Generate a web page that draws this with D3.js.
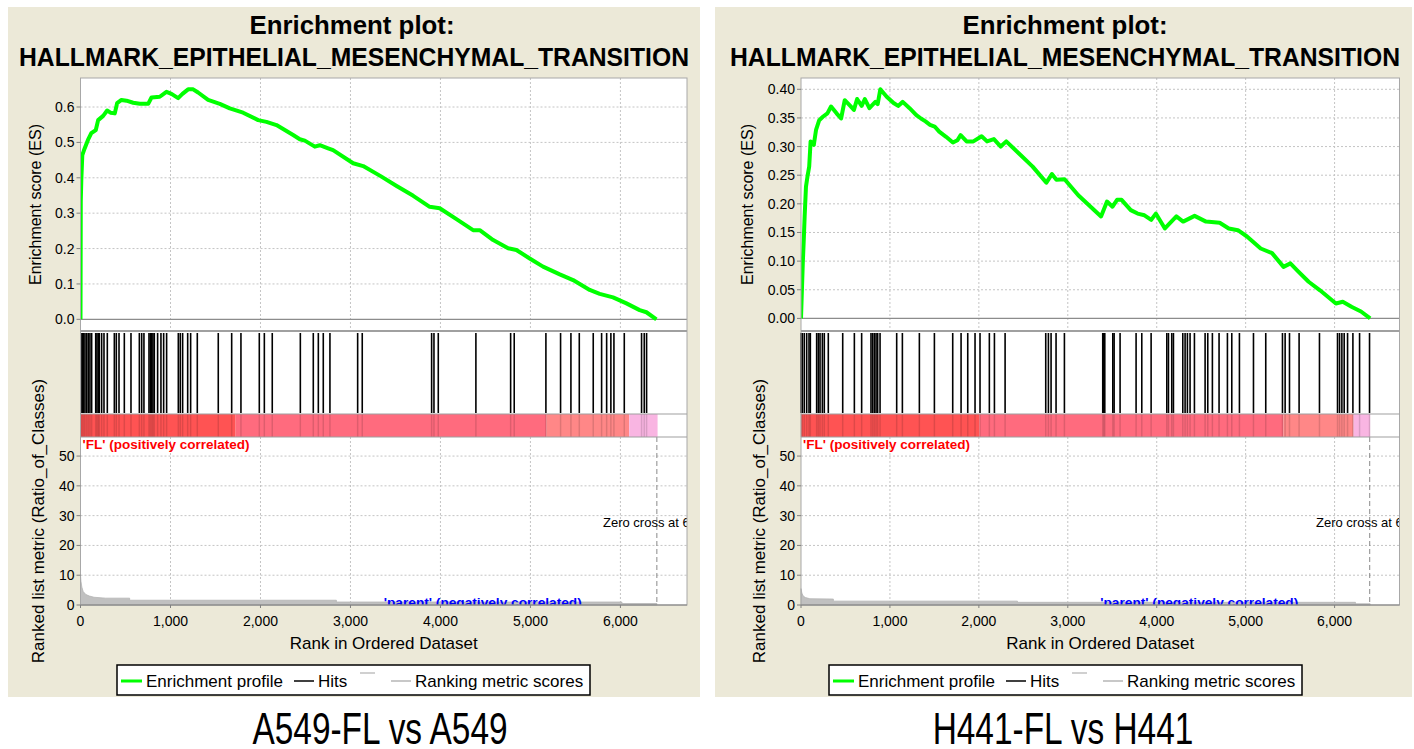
<!DOCTYPE html>
<html>
<head>
<meta charset="utf-8">
<script src="https://cdn.jsdelivr.net/npm/d3@7"></script>
<style>
  body { margin: 0; background: #fff; }
  svg { display: block; }
</style>
</head>
<body>
<div id="chart"></div>
<script>
// ---- data ----
const xTicks = [0, 1000, 2000, 3000, 4000, 5000, 6000];
const metricTicks = [0, 10, 20, 30, 40, 50];
const leftEsTicks = [0, 0.1, 0.2, 0.3, 0.4, 0.5, 0.6];
const rightEsTicks = [0, 0.05, 0.1, 0.15, 0.2, 0.25, 0.3, 0.35, 0.4];

// running enrichment score, [rank, ES]
const leftES = [[0,0],[3,0.333],[9,0.394],[20,0.464],[46,0.483],[83,0.507],[120,0.526],[170,0.535],[196,0.563],
  [252,0.575],[296,0.590],[333,0.584],[381,0.582],[407,0.611],[455,0.620],[511,0.618],[585,0.612],[659,0.609],
  [752,0.609],[789,0.627],[881,0.629],[955,0.643],[1011,0.637],[1085,0.625],[1133,0.637],[1196,0.650],[1252,0.650],
  [1307,0.641],[1418,0.620],[1548,0.609],[1659,0.596],[1807,0.584],[1974,0.563],[2067,0.558],[2178,0.549],
  [2363,0.521],[2437,0.509],[2493,0.505],[2604,0.488],[2659,0.492],[2752,0.483],[2807,0.478],[3030,0.441],
  [3141,0.433],[3340,0.404],[3513,0.377],[3698,0.349],[3881,0.318],[3992,0.314],[4178,0.283],[4363,0.252],
  [4437,0.252],[4586,0.224],[4752,0.201],[4844,0.196],[4992,0.172],[5140,0.149],[5326,0.127],[5474,0.111],
  [5659,0.083],[5770,0.072],[5918,0.062],[6067,0.045],[6214,0.026],[6289,0.020],[6400,0.0]];

const rightES = [[0,0],[10,0.049],[20,0.096],[31,0.137],[41,0.178],[56,0.230],[72,0.247],[92,0.265],[108,0.309],
  [144,0.303],[169,0.329],[205,0.346],[246,0.352],[297,0.358],[338,0.370],[400,0.358],[451,0.349],[492,0.381],
  [554,0.371],[595,0.364],[631,0.383],[682,0.371],[718,0.383],[769,0.367],[836,0.378],[862,0.374],[892,0.400],
  [964,0.387],[1041,0.376],[1092,0.371],[1144,0.378],[1221,0.367],[1297,0.355],[1349,0.349],[1400,0.344],
  [1451,0.338],[1503,0.335],[1554,0.326],[1631,0.317],[1708,0.307],[1759,0.311],[1795,0.320],[1862,0.309],
  [1938,0.309],[2031,0.318],[2092,0.309],[2169,0.313],[2246,0.300],[2308,0.309],[2451,0.288],[2605,0.265],
  [2759,0.237],[2821,0.252],[2872,0.242],[2964,0.243],[3118,0.215],[3374,0.178],[3441,0.204],[3503,0.195],
  [3554,0.207],[3605,0.207],[3708,0.189],[3785,0.183],[3862,0.180],[3938,0.172],[3990,0.183],[4092,0.157],
  [4221,0.178],[4297,0.169],[4426,0.179],[4554,0.169],[4708,0.167],[4810,0.157],[4913,0.154],[5015,0.143],
  [5169,0.122],[5297,0.114],[5426,0.090],[5503,0.096],[5579,0.084],[5708,0.064],[5836,0.049],[6015,0.026],
  [6092,0.029],[6195,0.020],[6297,0.012],[6400,0.0]];

// gene-set hit ranks
const leftHits = [5,20,35,50,69,87,105,124,169,183,198,209,235,261,298,376,398,428,487,561,654,680,705,761,776,
  791,805,820,857,894,924,957,1087,1109,1135,1191,1224,1298,1531,1680,1783,1987,2043,2131,2443,2587,2643,2698,
  2772,3080,3131,3902,3928,3976,4394,4780,4820,5172,5335,5450,5543,5698,5791,5847,5894,5928,6043,6235,6265,6291];

const rightHits = [1,15,37,64,90,105,176,195,214,240,262,307,469,600,682,787,806,825,844,862,889,1076,1140,1331,
  1500,1706,1800,1875,1957,2013,2118,2175,2295,2752,2782,2812,2868,2962,3393,3405,3416,3506,3521,3588,3768,3832,
  3937,4113,4132,4169,4188,4293,4319,4345,4375,4424,4544,4574,4626,4701,4795,4844,4930,5088,5226,5414,5444,5493,
  5601,5830,6033,6056,6082,6108,6146,6206,6281,6393];

// heat-map bar segments [fromRank, toRank, colour]
const leftBands = [[0,1724,"#ff5353"],[1724,5180,"#ff6b7e"],[5180,6098,"#ff8787"],[6098,6413,"#f9b5e2"]];
const rightBands = [[0,2008,"#ff5353"],[2008,5425,"#ff6b7e"],[5425,6213,"#ff8787"],[6213,6400,"#f9b5e2"]];

// ranked list metric, [rank, value]
const leftMetric = [[0,10],[5,8],[15,6],[30,4.5],[60,3.5],[100,3],[150,2.6],[280,2.3],[546,2.3],[546,1.6],
  [2844,1.6],[2844,1.0],[6017,1.0],[6017,0.5],[6405,0.5],[6405,0]];
const rightMetric = [[0,5.5],[10,4],[25,3],[50,2.5],[100,2.1],[364,2],[364,1.3],[2434,1.3],[2434,0.9],
  [6235,0.9],[6235,0.4],[6400,0.4],[6400,0]];

const legendItems = ["Enrichment profile", "Hits", "Ranking metric scores"];

const FONT = "Arial, 'Liberation Sans', Helvetica, sans-serif";
const svg = d3.select("#chart").append("svg").attr("width", 1414).attr("height", 749);

function txt(g, x, y, s, o = {}) {
  const t = g.append("text").attr("x", x).attr("y", y).text(s)
    .attr("font-family", FONT).attr("font-size", o.size || 14)
    .attr("fill", o.fill || "#000")
    .attr("text-anchor", o.anchor || "start");
  if (o.bold) t.attr("font-weight", "bold");
  if (o.len) t.attr("textLength", o.len).attr("lengthAdjust", "spacingAndGlyphs");
  return t;
}

function drawPanel(p) {
  const g = svg.append("g");
  const top = 78, esBot = 331, hitsBot = 414, barBot = 437, bot = 605;

  g.append("rect").attr("x", p.x0).attr("y", 7).attr("width", p.x1 - p.x0).attr("height", 690).attr("fill", "#ece9d8");

  // titles
  txt(g, p.t1x, 34, "Enrichment plot:", { size: 25, bold: true, anchor: "middle", len: 205 });
  txt(g, p.t2x, 66, "HALLMARK_EPITHELIAL_MESENCHYMAL_TRANSITION", { size: 26, bold: true, anchor: "middle", len: 670 });

  const x = d3.scaleLinear().domain([0, p.xMax]).range([p.plotL, p.plotR]);
  const yES = d3.scaleLinear().domain(p.esDomain).range([esBot, top]);
  const yM = d3.scaleLinear().domain([0, 56.4]).range([bot, barBot]);

  g.append("rect").attr("x", p.plotL).attr("y", top).attr("width", p.plotR - p.plotL)
    .attr("height", bot - top).attr("fill", "#fff");

  const gridCol = "#c4c4c4";
  // grid
  xTicks.slice(1).forEach(t => {
    g.append("line").attr("x1", x(t)).attr("x2", x(t)).attr("y1", top).attr("y2", esBot)
      .attr("stroke", gridCol).attr("stroke-dasharray", "2,2");
    g.append("line").attr("x1", x(t)).attr("x2", x(t)).attr("y1", barBot).attr("y2", bot)
      .attr("stroke", gridCol).attr("stroke-dasharray", "2,2");
  });
  p.esTicks.slice(1).forEach(t => {
    g.append("line").attr("x1", p.plotL).attr("x2", p.plotR).attr("y1", yES(t)).attr("y2", yES(t))
      .attr("stroke", gridCol).attr("stroke-dasharray", "2,2");
  });
  metricTicks.slice(1).forEach(t => {
    g.append("line").attr("x1", p.plotL).attr("x2", p.plotR).attr("y1", yM(t)).attr("y2", yM(t))
      .attr("stroke", gridCol).attr("stroke-dasharray", "2,2");
  });
  g.append("line").attr("x1", p.plotL).attr("x2", p.plotR).attr("y1", yES(0)).attr("y2", yES(0))
    .attr("stroke", "#8c8c8c").attr("stroke-width", 1.2);

  // clip paths
  const clipES = "clipES" + p.id, clipM = "clipM" + p.id;
  const defs = g.append("defs");
  defs.append("clipPath").attr("id", clipES).append("rect")
    .attr("x", p.plotL).attr("y", top).attr("width", p.plotR - p.plotL).attr("height", esBot - top);
  defs.append("clipPath").attr("id", clipM).append("rect")
    .attr("x", p.plotL).attr("y", barBot).attr("width", p.plotR - p.plotL).attr("height", bot - barBot);

  // metric area
  const area = d3.area().x(d => x(d[0])).y0(yM(0)).y1(d => yM(d[1]));
  g.append("path").datum(p.metric).attr("d", area).attr("fill", "#c0c0c0").attr("stroke", "#b4b4b4").attr("stroke-width", 0.8);

  // zero cross
  g.append("line").attr("x1", x(p.zero)).attr("x2", x(p.zero)).attr("y1", barBot).attr("y2", bot)
    .attr("stroke", "#8a8a8a").attr("stroke-dasharray", "5,3");
  const mg = g.append("g").attr("clip-path", `url(#${clipM})`);
  txt(mg, p.zeroTextX, 527, "Zero cross at " + p.zero, { size: 13 });
  txt(mg, p.plotL + 2, 449, "'FL' (positively correlated)", { size: 13, bold: true, fill: "#ff0000", len: 167 });
  txt(mg, x(p.xMax / 2), 607, "'parent' (negatively correlated)", { size: 13, bold: true, fill: "#0000ff", len: 198 });

  // ES curve
  const line = d3.line().x(d => x(d[0])).y(d => yES(d[1]));
  g.append("g").attr("clip-path", `url(#${clipES})`).append("path").datum(p.es).attr("d", line)
    .attr("fill", "none").attr("stroke", "#00ff00").attr("stroke-width", 4).attr("stroke-linejoin", "round");

  // heat bar
  p.bands.forEach(b => {
    g.append("rect").attr("x", x(b[0])).attr("y", hitsBot).attr("width", x(b[1]) - x(b[0]))
      .attr("height", barBot - hitsBot).attr("fill", b[2]);
  });
  p.hits.forEach(h => {
    g.append("line").attr("x1", x(h)).attr("x2", x(h)).attr("y1", hitsBot).attr("y2", barBot)
      .attr("stroke", "#000").attr("stroke-opacity", 0.13).attr("stroke-width", 1.5);
    g.append("line").attr("x1", x(h)).attr("x2", x(h)).attr("y1", esBot + 2).attr("y2", hitsBot - 1)
      .attr("stroke", "#000").attr("stroke-width", 1.6);
  });

  // frames
  g.append("rect").attr("x", p.plotL).attr("y", top).attr("width", p.plotR - p.plotL).attr("height", bot - top)
    .attr("fill", "none").attr("stroke", "#a8a8a8");
  [esBot, hitsBot, barBot].forEach(yy => {
    g.append("line").attr("x1", p.plotL).attr("x2", p.plotR).attr("y1", yy).attr("y2", yy)
      .attr("stroke", "#a0a0a0").attr("stroke-width", yy === esBot ? 2 : 1.2);
  });
  g.append("line").attr("x1", p.plotL).attr("x2", p.plotR).attr("y1", bot).attr("y2", bot)
    .attr("stroke", "#808080").attr("stroke-width", 1.2);

  // axes
  p.esTicks.forEach(t => {
    g.append("line").attr("x1", p.plotL - 4).attr("x2", p.plotL).attr("y1", yES(t)).attr("y2", yES(t)).attr("stroke", "#808080");
    txt(g, p.plotL - 6, yES(t) + 5, p.esFmt(t), { size: 14, anchor: "end" });
  });
  metricTicks.forEach(t => {
    g.append("line").attr("x1", p.plotL - 4).attr("x2", p.plotL).attr("y1", yM(t)).attr("y2", yM(t)).attr("stroke", "#808080");
    txt(g, p.plotL - 6, yM(t) + 5, String(t), { size: 14, anchor: "end" });
  });
  xTicks.forEach(t => {
    g.append("line").attr("x1", x(t)).attr("x2", x(t)).attr("y1", bot).attr("y2", bot + 3).attr("stroke", "#808080");
    txt(g, x(t), 626, d3.format(",")(t), { size: 14, anchor: "middle" });
  });
  txt(g, (p.plotL + p.plotR) / 2, 649, "Rank in Ordered Dataset", { size: 17, anchor: "middle" });
  txt(g, 0, 0, "Enrichment score (ES)", { size: 16, anchor: "middle" })
    .attr("transform", `translate(${p.esLabelX},${(top + esBot) / 2}) rotate(-90)`);
  txt(g, 0, 0, "Ranked list metric (Ratio_of_Classes)", { size: 17, anchor: "middle" })
    .attr("transform", `translate(${p.mLabelX},${(barBot + bot) / 2}) rotate(-90)`);

  // legend
  const lx = p.legX, ly = 665;
  g.append("rect").attr("x", lx).attr("y", ly).attr("width", 473).attr("height", 30)
    .attr("fill", "#fff").attr("stroke", "#000").attr("stroke-width", 1.5);
  g.append("line").attr("x1", lx + 4).attr("x2", lx + 25).attr("y1", ly + 16).attr("y2", ly + 16)
    .attr("stroke", "#00ff00").attr("stroke-width", 3);
  txt(g, lx + 29, ly + 22, legendItems[0], { size: 17 });
  g.append("line").attr("x1", lx + 177).attr("x2", lx + 197).attr("y1", ly + 16).attr("y2", ly + 16)
    .attr("stroke", "#000").attr("stroke-width", 1.5);
  txt(g, lx + 201, ly + 22, legendItems[1], { size: 17 });
  g.append("line").attr("x1", lx + 243).attr("x2", lx + 258).attr("y1", ly + 8).attr("y2", ly + 8)
    .attr("stroke", "#d0d0d0").attr("stroke-width", 2);
  g.append("line").attr("x1", lx + 274).attr("x2", lx + 294).attr("y1", ly + 16).attr("y2", ly + 16)
    .attr("stroke", "#c8c8c8").attr("stroke-width", 2);
  txt(g, lx + 298, ly + 22, legendItems[2], { size: 17 });

  // caption
  svg.append("text").attr("transform", `translate(${p.capX},744) scale(0.76,1)`)
    .attr("text-anchor", "middle").attr("font-family", FONT).attr("font-size", 44).text(p.caption);
}

drawPanel({
  id: "L", x0: 8, x1: 700, t1x: 352, t2x: 354,
  plotL: 80.5, plotR: 687, xMax: 6740, esDomain: [-0.033, 0.682], esTicks: leftEsTicks,
  esFmt: d3.format(".1f"), es: leftES, hits: leftHits, bands: leftBands, metric: leftMetric,
  zero: 6405, zeroTextX: 603, esLabelX: 41, mLabelX: 44, legX: 117,
  caption: "A549-FL vs A549", capX: 380
});
drawPanel({
  id: "R", x0: 715, x1: 1412, t1x: 1065, t2x: 1065,
  plotL: 801, plotR: 1399.5, xMax: 6730, esDomain: [-0.022, 0.4197], esTicks: rightEsTicks,
  esFmt: d3.format(".2f"), es: rightES, hits: rightHits, bands: rightBands, metric: rightMetric,
  zero: 6395, zeroTextX: 1316, esLabelX: 753, mLabelX: 765, legX: 829,
  caption: "H441-FL vs H441", capX: 1063
});
</script>
</body>
</html>
